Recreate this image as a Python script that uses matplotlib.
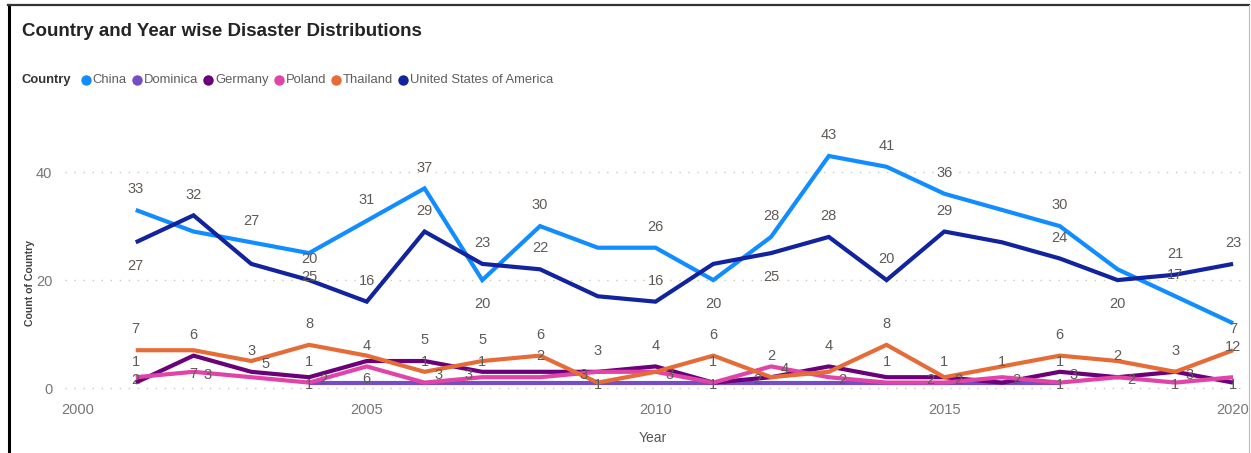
import matplotlib
matplotlib.use("Agg")
import matplotlib.pyplot as plt
from matplotlib.font_manager import FontProperties
from matplotlib.lines import Line2D

# ---- data -------------------------------------------------------------
years = [2001, 2002, 2003, 2004, 2005, 2006, 2007, 2008, 2009, 2010,
         2011, 2012, 2013, 2014, 2015, 2016, 2017, 2018, 2019, 2020]
china = [33, 29, 27, 25, 31, 37, 20, 30, 26, 26, 20, 28, 43, 41, 36, 33, 30, 22, 17, 12]
dominica_years = [2004, 2005, 2006, 2007, 2008, 2009, 2010, 2011, 2012, 2013,
                  2014, 2015, 2016, 2017]
dominica = [1, 1, 1, 1, 1, 1, 1, 1, 1, 1, 1, 1, 1, 1]
germany = [1, 6, 3, 2, 5, 5, 3, 3, 3, 4, 1, 2, 4, 2, 2, 1, 3, 2, 3, 1]
poland = [2, 3, 2, 1, 4, 1, 2, 2, 3, 3, 1, 4, 2, 1, 1, 2, 1, 2, 1, 2]
thailand = [7, 7, 5, 8, 6, 3, 5, 6, 1, 3, 6, 2, 3, 8, 2, 4, 6, 5, 3, 7]
usa = [27, 32, 23, 20, 16, 29, 23, 22, 17, 16, 23, 25, 28, 20, 29, 27, 24, 20, 21, 23]

countries = ["China", "Dominica", "Germany", "Poland", "Thailand", "United States of America"]
year_ticks = [2000, 2005, 2010, 2015, 2020]
count_ticks = [0, 20, 40]

# ---- styling ----------------------------------------------------------
colors = {
    "China": "#118DFF",
    "Dominica": "#744EC2",
    "Germany": "#6B007B",
    "Poland": "#E044A7",
    "Thailand": "#E66C37",
    "United States of America": "#12239E",
}

# data label placement per point: a=above, b=below, r=right, l=left,
# c=centred on the point, .=hidden
label_layout = {
    "China": "a.abaaba.abaaaa.a.ab",
    "Dominica": "c..a.........c",
    "Germany": "aaar.al.laaaa.lararc",
    "Poland": "cr.aaa.aa.crraararc.",
    "Thailand": "abrabraacral.ar.a.aa",
    "United States of America": "ba.aaaaa.a.baaa.abaa",
}
offsets = {"a": (0, 15), "b": (0, -17), "r": (10, -2), "l": (-10, -2), "c": (0, -2)}

FAMILY = ["Liberation Sans", "DejaVu Sans"]


def fp(size, bold=False):
    return FontProperties(family=FAMILY, size=size, weight="bold" if bold else "normal")


label_color = "#5f5a55"
tick_color = "#777777"
grid_color = "#c8c8c8"
num_size = 10.5

W, H = 1251, 453
fig = plt.figure(figsize=(W / 100, H / 100), dpi=100)
fig.patch.set_facecolor("white")
renderer = fig.canvas.get_renderer()


def fx(px):
    return px / W


def fy(py):
    return 1 - py / H


# plot area
ax_left, ax_right, ax_top, ax_bottom = 65, 1240, 129, 388
ax = fig.add_axes([fx(ax_left), fy(ax_bottom), fx(ax_right - ax_left), (ax_bottom - ax_top) / H])
ax.set_xlim(1999.775, 2020.12)
ax.set_ylim(0, 48)
for s in ax.spines.values():
    s.set_visible(False)
ax.set_facecolor("none")

for t in count_ticks:
    ax.axhline(t, color=grid_color, lw=1.0, ls=(0, (1, 5.5)), zorder=0, clip_on=False)

ax.set_xticks(year_ticks)
ax.set_xticklabels([str(y) for y in year_ticks], fontproperties=fp(num_size), color=tick_color)
ax.set_yticks(count_ticks)
ax.set_yticklabels([str(v) for v in count_ticks], fontproperties=fp(num_size), color=tick_color)
ax.tick_params(axis="x", length=0, pad=11)
ax.tick_params(axis="y", length=0, pad=9)

ax.set_xlabel("Year", fontproperties=fp(10), color="#555555")
ax.xaxis.set_label_coords(0.5, -(438 - ax_bottom) / (ax_bottom - ax_top))
ax.xaxis.label.set_va("center")
ax.set_ylabel("Count of Country", fontproperties=fp(7.6, True), color="#444444")
ax.yaxis.set_label_coords(-(ax_left - 30) / (ax_right - ax_left), 0.5 - (283 - 258.5) / 259)
ax.yaxis.label.set_va("center")

series = {
    "China": (years, china),
    "Dominica": (dominica_years, dominica),
    "Germany": (years, germany),
    "Poland": (years, poland),
    "Thailand": (years, thailand),
    "United States of America": (years, usa),
}

for i, name in enumerate(countries):
    xs, ys = series[name]
    ax.plot(xs, ys, color=colors[name], lw=3.0, solid_joinstyle="miter",
            solid_capstyle="butt", zorder=2 + i, clip_on=False)

for name in countries:
    xs, ys = series[name]
    for x, y, code in zip(xs, ys, label_layout[name]):
        if code == ".":
            continue
        dx, dy = offsets[code]
        ax.annotate(str(y), (x, y), xytext=(dx, dy), textcoords="offset points",
                    ha="center", va="center", fontproperties=fp(num_size),
                    color=label_color, zorder=20)

# title
fig.text(fx(22), fy(31), "Country and Year wise Disaster Distributions",
         fontproperties=fp(13.5, True), color="#252423", ha="left", va="center")

# legend row
legend_y = fy(80)
leg_size = 9.4
head = fig.text(fx(22), legend_y, "Country", fontproperties=fp(leg_size, True),
                color="#333333", ha="left", va="center")
x_end = head.get_window_extent(renderer).x1
for name in countries:
    cx = x_end + 14
    fig.add_artist(Line2D([fx(cx)], [legend_y], marker="o", markersize=7.5,
                          color=colors[name], markeredgewidth=0, transform=fig.transFigure))
    t = fig.text(fx(cx + 7), legend_y, name, fontproperties=fp(leg_size),
                 color="#605E5C", ha="left", va="center")
    x_end = t.get_window_extent(renderer).x1 - 4

# frame
fig.add_artist(Line2D([fx(9), fx(9)], [0, fy(5)], color="black", lw=2.2, transform=fig.transFigure))
fig.add_artist(Line2D([fx(8), fx(1249)], [fy(5), fy(5)], color="#333333", lw=1.6, transform=fig.transFigure))
fig.add_artist(Line2D([fx(1249), fx(1249)], [fy(5), 0], color="#bbbbbb", lw=0.8, transform=fig.transFigure))

fig.savefig("out.png", dpi=100, facecolor="white")
